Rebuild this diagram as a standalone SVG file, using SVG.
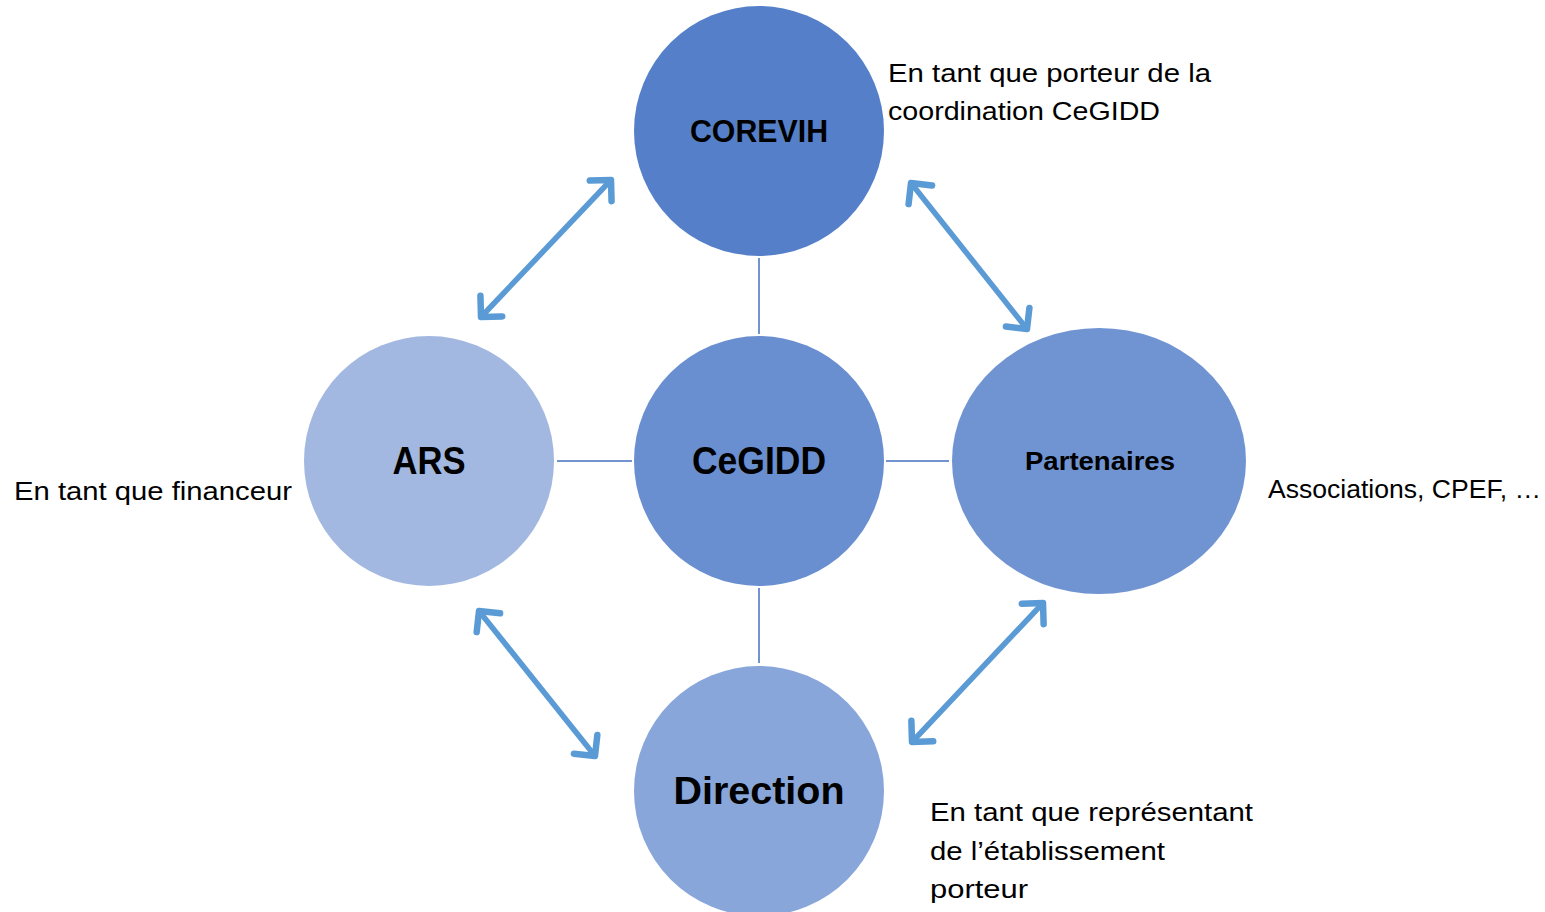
<svg xmlns="http://www.w3.org/2000/svg" width="1545" height="912" viewBox="0 0 1545 912">
<style>
.lbl{font-family:"Liberation Sans",Arial,sans-serif;font-weight:bold;fill:#000;text-anchor:middle}
.note{font-family:"Liberation Sans",Arial,sans-serif;font-size:26px;fill:#000}
.thin{stroke:#7393D0;stroke-width:2;fill:none}
.arr{stroke:#5B9BD5;stroke-width:5.5;fill:none;marker-start:url(#ah);marker-end:url(#ah)}
</style>
<defs>
<marker id="ah" markerUnits="userSpaceOnUse" viewBox="-25 -20 30 40" markerWidth="30" markerHeight="40" refX="0" refY="0" orient="auto-start-reverse" overflow="visible">
<path d="M-15,-15 L0,0 L-15,15" fill="none" stroke="#5B9BD5" stroke-width="6.5" stroke-linecap="round" stroke-linejoin="round"/>
</marker>
</defs>
<rect width="1545" height="912" fill="#fff"/>
<g id="connectors">
<line class="thin" x1="759" y1="258" x2="759" y2="334"/>
<line class="thin" x1="557" y1="461" x2="632" y2="461"/>
<line class="thin" x1="886" y1="461" x2="949" y2="461"/>
<line class="thin" x1="759" y1="588" x2="759" y2="663"/>
<line class="arr" x1="481" y1="317" x2="611" y2="180"/>
<line class="arr" x1="911" y1="183" x2="1027" y2="329"/>
<line class="arr" x1="479" y1="611" x2="595" y2="756"/>
<line class="arr" x1="1043" y1="603" x2="912" y2="742"/>
</g>
<g id="corevih">
<circle cx="759" cy="131" r="125" fill="#5580C9"/>
<text class="lbl" x="759" y="142" font-size="32" textLength="138" lengthAdjust="spacingAndGlyphs">COREVIH</text>
</g>
<g id="cegidd">
<circle cx="759" cy="461" r="125" fill="#6A8FD0"/>
<text class="lbl" x="759" y="474" font-size="38" textLength="134" lengthAdjust="spacingAndGlyphs">CeGIDD</text>
</g>
<g id="ars">
<circle cx="429" cy="461" r="125" fill="#A2B8E0"/>
<text class="lbl" x="429" y="474" font-size="38" textLength="73" lengthAdjust="spacingAndGlyphs">ARS</text>
</g>
<g id="partenaires">
<ellipse cx="1099" cy="461" rx="147" ry="133" fill="#7094D2"/>
<text class="lbl" x="1100" y="470" font-size="26" textLength="150" lengthAdjust="spacingAndGlyphs">Partenaires</text>
</g>
<g id="direction">
<circle cx="759" cy="791" r="125" fill="#88A6DA"/>
<text class="lbl" x="759" y="804" font-size="39" textLength="171" lengthAdjust="spacingAndGlyphs">Direction</text>
</g>
<g id="notes">
<text class="note" x="888" y="82" textLength="323" lengthAdjust="spacingAndGlyphs">En tant que porteur de la</text>
<text class="note" x="888" y="120" textLength="272" lengthAdjust="spacingAndGlyphs">coordination CeGIDD</text>
<text class="note" x="14" y="500" textLength="278" lengthAdjust="spacingAndGlyphs">En tant que financeur</text>
<text class="note" x="1268" y="498" textLength="273" lengthAdjust="spacingAndGlyphs">Associations, CPEF, …</text>
<text class="note" x="930" y="821" textLength="323" lengthAdjust="spacingAndGlyphs">En tant que représentant</text>
<text class="note" x="930" y="860" textLength="235" lengthAdjust="spacingAndGlyphs">de l’établissement</text>
<text class="note" x="930" y="898" textLength="98" lengthAdjust="spacingAndGlyphs">porteur</text>
</g>
</svg>
